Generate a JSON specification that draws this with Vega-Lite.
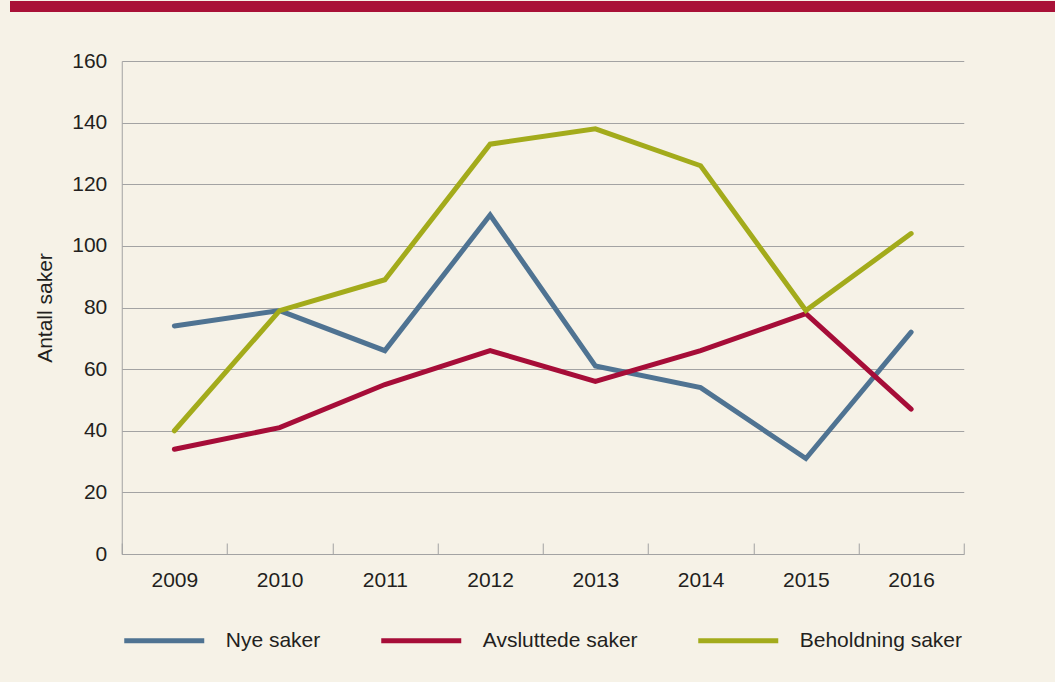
{
  "$schema": "https://vega.github.io/schema/vega-lite/v6.json",
  "background": "#f6f2e7",
  "padding": {"left": 0, "top": 0, "right": 0, "bottom": 31},
  "spacing": 38,
  "center": true,
  "resolve": {"legend": {"color": "independent"}},
  "config": {"font": "Liberation Sans", "view": {"stroke": null}},
  "vconcat": [
    {
      "width": 1066,
      "height": 11,
      "view": {"fill": "#a91137", "stroke": null},
      "data": {"values": [{"a": 1}]},
      "mark": {"type": "text", "text": ""},
      "encoding": {}
    },
    {
      "width": 842,
      "height": 493,
      "data": {
        "values": [
          {"year": "2009", "series": "Nye saker", "value": 74},
          {"year": "2010", "series": "Nye saker", "value": 79},
          {"year": "2011", "series": "Nye saker", "value": 66},
          {"year": "2012", "series": "Nye saker", "value": 110},
          {"year": "2013", "series": "Nye saker", "value": 61},
          {"year": "2014", "series": "Nye saker", "value": 54},
          {"year": "2015", "series": "Nye saker", "value": 31},
          {"year": "2016", "series": "Nye saker", "value": 72},
          {"year": "2009", "series": "Avsluttede saker", "value": 34},
          {"year": "2010", "series": "Avsluttede saker", "value": 41},
          {"year": "2011", "series": "Avsluttede saker", "value": 55},
          {"year": "2012", "series": "Avsluttede saker", "value": 66},
          {"year": "2013", "series": "Avsluttede saker", "value": 56},
          {"year": "2014", "series": "Avsluttede saker", "value": 66},
          {"year": "2015", "series": "Avsluttede saker", "value": 78},
          {"year": "2016", "series": "Avsluttede saker", "value": 47},
          {"year": "2009", "series": "Beholdning saker", "value": 40},
          {"year": "2010", "series": "Beholdning saker", "value": 79},
          {"year": "2011", "series": "Beholdning saker", "value": 89},
          {"year": "2012", "series": "Beholdning saker", "value": 133},
          {"year": "2013", "series": "Beholdning saker", "value": 138},
          {"year": "2014", "series": "Beholdning saker", "value": 126},
          {"year": "2015", "series": "Beholdning saker", "value": 79},
          {"year": "2016", "series": "Beholdning saker", "value": 104}
        ]
      },
      "mark": {"type": "line", "strokeWidth": 5, "strokeCap": "round"},
      "encoding": {
        "x": {
          "field": "year",
          "type": "ordinal",
          "bandPosition": 0.5,
          "scale": {"type": "band", "paddingInner": 0, "paddingOuter": 0},
          "axis": {
            "title": null,
            "labelAngle": 0,
            "labelFontSize": 21,
            "labelColor": "#231f20",
            "labelPadding": 26,
            "tickBand": "extent",
            "tickSize": -11,
            "tickColor": "#a3a3a3",
            "domainColor": "#a3a3a3",
            "grid": false
          }
        },
        "y": {
          "field": "value",
          "type": "quantitative",
          "scale": {"domain": [0, 160], "nice": false},
          "axis": {
            "values": [0, 20, 40, 60, 80, 100, 120, 140, 160],
            "ticks": false,
            "grid": true,
            "gridColor": "#a3a3a3",
            "gridOpacity": 1,
            "domainColor": "#a3a3a3",
            "labelFontSize": 21,
            "labelColor": "#231f20",
            "labelPadding": 15,
            "title": ["", "Antall saker"],
            "titleFontSize": 21,
            "titleFontWeight": "normal",
            "titleColor": "#231f20",
            "titleLineHeight": 34,
            "titlePadding": 16
          }
        },
        "color": {
          "field": "series",
          "type": "nominal",
          "scale": {
            "domain": ["Nye saker", "Avsluttede saker", "Beholdning saker"],
            "range": ["#4f7392", "#a60d38", "#a3ab1b"]
          },
          "legend": {
            "orient": "bottom",
            "direction": "horizontal",
            "title": null,
            "symbolType": "stroke",
            "symbolSize": 6400,
            "symbolStrokeWidth": 5,
            "labelFontSize": 21,
            "labelColor": "#231f20",
            "labelOffset": 19,
            "labelLimit": 400,
            "columnPadding": 50,
            "offset": 8
          }
        }
      }
    }
  ]
}
